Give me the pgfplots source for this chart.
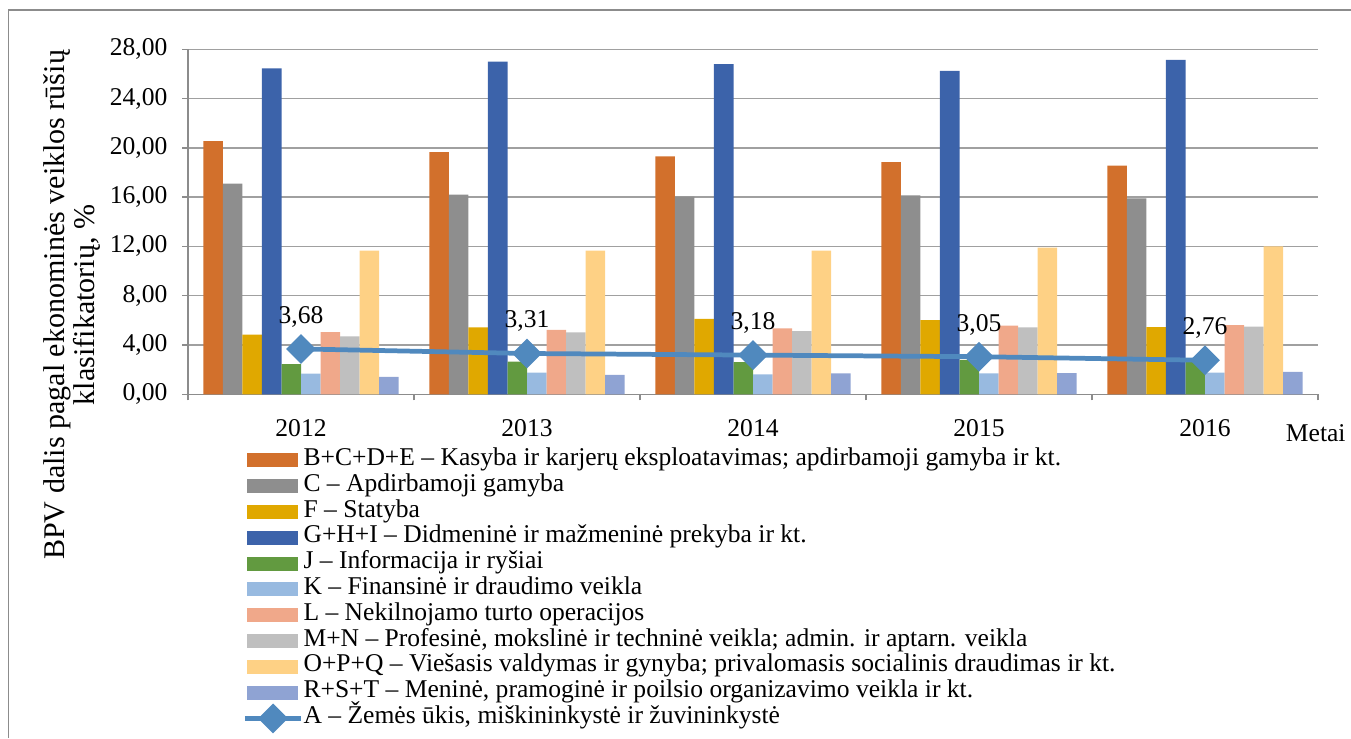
\documentclass[border=0pt]{standalone}
\usepackage{fontspec}
\setmainfont{Liberation Serif}
\usepackage{pgfplots}
\usepackage{pgfplotstable}
\pgfplotsset{compat=1.18}
\pgfplotsset{/pgf/number format/assume math mode=true}

\definecolor{cBCDE}{HTML}{D2702C}
\definecolor{cC}{HTML}{8E8E8E}
\definecolor{cF}{HTML}{E0A800}
\definecolor{cGHI}{HTML}{3C63AA}
\definecolor{cJ}{HTML}{629A40}
\definecolor{cK}{HTML}{98BAE0}
\definecolor{cL}{HTML}{F0A88A}
\definecolor{cMN}{HTML}{BFBFBF}
\definecolor{cOPQ}{HTML}{FED185}
\definecolor{cRST}{HTML}{8FA3D3}
\definecolor{cA}{HTML}{5089BE}
\definecolor{gridgray}{HTML}{A0A0A0}
\definecolor{axisgray}{HTML}{8C8C8C}

% metai: 0=2012 ... 4=2016
\pgfplotstableread{
idx BCDE  C     F    GHI   J    K    L    MN   OPQ   RST  A
0   20.55 17.10 4.85 26.45 2.45 1.67 5.05 4.70 11.65 1.42 3.68
1   19.65 16.20 5.42 27.00 2.65 1.75 5.22 5.02 11.65 1.57 3.31
2   19.30 16.05 6.12 26.80 2.60 1.62 5.35 5.12 11.65 1.70 3.18
3   18.85 16.15 6.02 26.25 2.80 1.70 5.58 5.42 11.90 1.72 3.05
4   18.55 15.90 5.45 27.15 2.90 1.75 5.62 5.50 12.00 1.82 2.76
}\bpv

\pgfplotsset{
  stulp/.style 2 args={ybar, fill=#1, draw=none, bar width=0.0863, bar shift=#2,
    legend image code/.code={\fill[##1] (0cm,-0.093cm) rectangle (0.68cm,0.093cm);
      \path (0.705cm,0cm);}},
  linija/.style={legend image code/.code={\draw[mark repeat=2, mark phase=2, ##1]
      plot coordinates {(-0.03cm,0cm) (0.345cm,0cm) (0.72cm,0cm)}; \path (0.705cm,0cm);}},
}

\begin{document}
\begin{tikzpicture}[font=\fontsize{9.7}{11.6}\selectfont]
\begin{axis}[
  scale only axis,
  width=15.067cm, height=4.6cm,
  xmin=-0.5, xmax=4.5,
  ymin=0, ymax=28,
  ytick={0,4,...,28},
  xtick={-0.5,0.5,...,4.5},
  xticklabels={},
  extra x ticks={0,1,2,3,4},
  extra x tick labels={2012,2013,2014,2015,2016},
  extra x tick style={major tick length=0pt, xticklabel style={yshift=-0.21cm}},
  axis lines*=left,
  axis line style={draw=axisgray, line width=0.55pt},
  tick align=outside,
  major tick length=0.08cm,
  tick style={draw=axisgray, line width=0.55pt},
  ymajorgrids,
  major grid style={draw=gridgray, line width=0.55pt},
  yticklabel style={xshift=-0.07cm, /pgf/number format/.cd, fixed, fixed zerofill, precision=2, use comma},
  ylabel={BPV dalis pagal ekonominės veiklos rūšių\\klasifikatorių, \%},
  ylabel style={at={(axis description cs:-0.1027,0.259)}, anchor=center, align=center,
    font=\fontsize{11.4}{11.6}\selectfont},
  xlabel={Metai},
  xlabel style={at={(axis description cs:0.998,-0.112)}, anchor=center},
  legend cell align=left,
  legend style={at={(0.0478,-0.1528)}, anchor=north west, draw=none, fill=none,
    inner sep=0pt, row sep=0pt,
    nodes={inner sep=0pt, text height=0.24cm, text depth=0.104cm}},
]
\addplot[stulp={cBCDE}{-0.3884}] table[x=idx, y=BCDE] {\bpv};
\addlegendentry{B+C+D+E – Kasyba ir karjerų eksploatavimas; apdirbamoji gamyba ir kt.}
\addplot[stulp={cC}{-0.3021}] table[x=idx, y=C] {\bpv};
\addlegendentry{C – Apdirbamoji gamyba}
\addplot[stulp={cF}{-0.2158}] table[x=idx, y=F] {\bpv};
\addlegendentry{F – Statyba}
\addplot[stulp={cGHI}{-0.1295}] table[x=idx, y=GHI] {\bpv};
\addlegendentry{G+H+I – Didmeninė ir mažmeninė prekyba ir kt.}
\addplot[stulp={cJ}{-0.0432}] table[x=idx, y=J] {\bpv};
\addlegendentry{J – Informacija ir ryšiai}
\addplot[stulp={cK}{0.0432}] table[x=idx, y=K] {\bpv};
\addlegendentry{K – Finansinė ir draudimo veikla}
\addplot[stulp={cL}{0.1295}] table[x=idx, y=L] {\bpv};
\addlegendentry{L – Nekilnojamo turto operacijos}
\addplot[stulp={cMN}{0.2158}] table[x=idx, y=MN] {\bpv};
\addlegendentry{M+N – Profesinė, mokslinė ir techninė veikla; admin. ir aptarn. veikla}
\addplot[stulp={cOPQ}{0.3021}] table[x=idx, y=OPQ] {\bpv};
\addlegendentry{O+P+Q – Viešasis valdymas ir gynyba; privalomasis socialinis draudimas ir kt.}
\addplot[stulp={cRST}{0.3884}] table[x=idx, y=RST] {\bpv};
\addlegendentry{R+S+T – Meninė, pramoginė ir poilsio organizavimo veikla ir kt.}
\addplot[linija, color=cA, line width=1.8pt, mark=square*, mark size=3.1pt,
  mark options={rotate=45, solid},
  point meta=y,
  nodes near coords={\pgfmathprintnumber[fixed, fixed zerofill, precision=2, use comma]{\pgfplotspointmeta}},
  every node near coord/.append style={anchor=base, yshift=0.34cm, color=black, font=\fontsize{9.7}{11.6}\selectfont},
] table[x=idx, y=A] {\bpv};
\addlegendentry{A – Žemės ūkis, miškininkystė ir žuvininkystė}
\end{axis}
\draw[axisgray, line width=0.55pt] (-2.393,-4.584) -- (-2.393,5.124) -- (15.507,5.124);
\pgfresetboundingbox
\path[use as bounding box] (-2.507,-4.584) rectangle (15.507,5.257);
\end{tikzpicture}
\end{document}
